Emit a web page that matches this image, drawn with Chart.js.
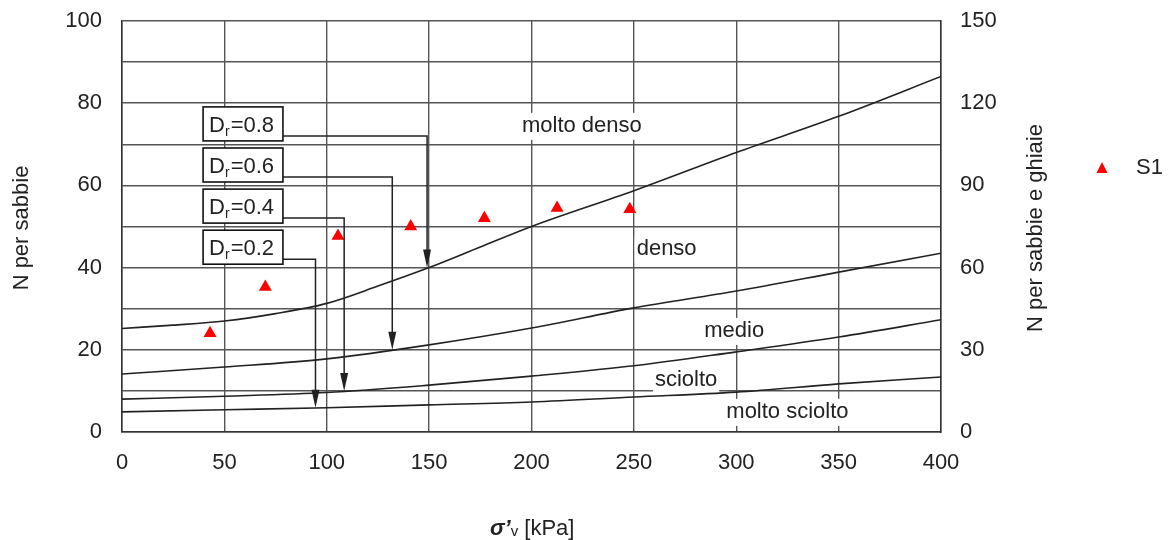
<!DOCTYPE html>
<html>
<head>
<meta charset="utf-8">
<script src="https://cdn.jsdelivr.net/npm/chart.js@4.4.0/dist/chart.umd.min.js"></script>
<style>
  html, body { margin: 0; padding: 0; background: #fff; }
  #wrap { width: 1170px; height: 540px; }
</style>
</head>
<body>
<div id="wrap"><canvas id="myChart"></canvas></div>
<script>
// sigma'v [kPa] sampling of the boundary curves
var sigmaDr08 = [0, 25, 50, 75, 100, 125, 150, 175, 200, 250, 300, 350, 400];
var curveDr08 = [25.2, 26, 27, 28.8, 31.3, 35.5, 40, 45, 50, 58.7, 68, 76.8, 86.5];
var sigmaV = [0, 50, 100, 150, 200, 250, 300, 350, 400];
var curveDr06 = [14.1, 15.8, 17.8, 21.2, 25.3, 30.2, 34.3, 38.9, 43.5];
var curveDr04 = [8.0, 8.7, 9.6, 11.4, 13.6, 16.1, 19.5, 23.1, 27.3];
var curveDr02 = [4.9, 5.4, 5.9, 6.6, 7.3, 8.5, 9.7, 11.7, 13.4];

// S1 test results
var s1Sigma = [43, 70, 105.5, 141, 177, 212.5, 248];
var s1N = [24, 35.3, 47.7, 50, 52, 54.5, 54.2];

// Dr reference arrows
var drValues = ['0.8', '0.6', '0.4', '0.2'];
var drArrowSigma = [149, 132, 108.5, 94.5];
var drArrowN = [40, 20, 10, 5.9];

// zone names
var zoneNames = ['molto denso', 'denso', 'medio', 'sciolto', 'molto sciolto'];
var zoneSigma = [224.6, 266, 299, 275.5, 325];
var zoneN = [74.5, 44.5, 24.6, 12.7, 4.9];

var FONT = '"Liberation Sans", Arial, sans-serif';
var INK = '#222';

function toPoints(xs, ys) {
    var pts = [];
    for (var i = 0; i < xs.length; i++) pts.push({ x: xs[i], y: ys[i] });
    return pts;
}

function curve(label, xs, ys) {
    return {
        label: label,
        data: toPoints(xs, ys),
        borderColor: INK,
        borderWidth: 1.6,
        pointRadius: 0,
        fill: false,
        cubicInterpolationMode: 'monotone',
        yAxisID: 'y'
    };
}

var overlay = {
    id: 'overlay',
    beforeDatasetsDraw: function(chart) {
        // zone names sit on a white patch over the grid, under the curves
        var ctx = chart.ctx;
        var xs = chart.scales.x, ys = chart.scales.y;
        ctx.save();
        ctx.font = '22px ' + FONT;
        for (var i = 0; i < zoneNames.length; i++) {
            var px = xs.getPixelForValue(zoneSigma[i]);
            var py = ys.getPixelForValue(zoneN[i]);
            var w = ctx.measureText(zoneNames[i]).width;
            ctx.fillStyle = '#fff';
            ctx.fillRect(px - w / 2 - 2, py - 13, w + 4, 27);
        }
        ctx.restore();
    },
    afterDatasetsDraw: function(chart) {
        var ctx = chart.ctx;
        var xs = chart.scales.x, ys = chart.scales.y;
        ctx.save();

        ctx.font = '22px ' + FONT;
        ctx.textAlign = 'center';
        ctx.textBaseline = 'middle';
        ctx.fillStyle = INK;
        for (var i = 0; i < zoneNames.length; i++) {
            ctx.fillText(zoneNames[i], xs.getPixelForValue(zoneSigma[i]), ys.getPixelForValue(zoneN[i]));
        }

        // Dr boxes and arrows
        var boxL = xs.getPixelForValue(39.6), boxR = xs.getPixelForValue(78.6);
        for (var j = 0; j < drValues.length; j++) {
            var top = ys.getPixelForValue(79.1 - 10 * j);
            var bh = 34;
            var cy = top + 29;
            var ax = xs.getPixelForValue(drArrowSigma[j]);
            var ay = ys.getPixelForValue(drArrowN[j]);
            ctx.strokeStyle = INK;
            ctx.lineWidth = 1.5;
            ctx.beginPath();
            ctx.moveTo(boxR, cy);
            ctx.lineTo(ax, cy);
            ctx.lineTo(ax, ay - 16);
            ctx.stroke();
            ctx.fillStyle = INK;
            ctx.beginPath();
            ctx.moveTo(ax, ay);
            ctx.lineTo(ax - 4, ay - 18);
            ctx.lineTo(ax + 4, ay - 18);
            ctx.closePath();
            ctx.fill();

            ctx.fillStyle = '#fff';
            ctx.fillRect(boxL, top, boxR - boxL, bh);
            ctx.strokeStyle = '#111';
            ctx.lineWidth = 1.6;
            ctx.strokeRect(boxL, top, boxR - boxL, bh);

            ctx.fillStyle = INK;
            ctx.textAlign = 'left';
            ctx.textBaseline = 'alphabetic';
            var tx = boxL + 6, ty = top + 25;
            ctx.font = '22px ' + FONT;
            ctx.fillText('D', tx, ty);
            tx += ctx.measureText('D').width;
            ctx.font = '14px ' + FONT;
            ctx.fillText('r', tx, ty + 4);
            tx += ctx.measureText('r').width + 1;
            ctx.font = '22px ' + FONT;
            ctx.fillText('=' + drValues[j], tx, ty);
        }

        // axis titles
        ctx.font = '22px ' + FONT;
        ctx.textAlign = 'center';
        ctx.textBaseline = 'middle';
        ctx.fillStyle = INK;
        ctx.save();
        ctx.translate(22, 228);
        ctx.rotate(-Math.PI / 2);
        ctx.fillText('N per sabbie', 0, 0);
        ctx.restore();
        ctx.save();
        ctx.translate(1036, 228);
        ctx.rotate(-Math.PI / 2);
        ctx.fillText('N per sabbie e ghiaie', 0, 0);
        ctx.restore();

        // x title: sigma'v [kPa]
        ctx.textAlign = 'left';
        ctx.textBaseline = 'alphabetic';
        var xt = 490, yt = 535;
        ctx.font = 'italic bold 22px ' + FONT;
        ctx.fillText('\u03C3\u2019', xt, yt);
        xt += ctx.measureText('\u03C3\u2019').width;
        ctx.font = '15px ' + FONT;
        ctx.fillText('v', xt, yt + 1);
        xt += ctx.measureText('v').width;
        ctx.font = '22px ' + FONT;
        ctx.fillText(' [kPa]', xt, yt);

        // legend
        var lx = 1102, ly = 168;
        ctx.fillStyle = '#ff0000';
        ctx.beginPath();
        ctx.moveTo(lx, ly - 6);
        ctx.lineTo(lx + 5.5, ly + 5);
        ctx.lineTo(lx - 5.5, ly + 5);
        ctx.closePath();
        ctx.fill();
        ctx.fillStyle = INK;
        ctx.textBaseline = 'middle';
        ctx.fillText('S1', 1136, ly);

        ctx.restore();
    }
};

function noVPad(s) {
    s.paddingTop = 0;
    s.paddingBottom = 0;
}

var ctx = document.getElementById('myChart').getContext('2d');
var myChart = new Chart(ctx, {
    type: 'line',
    data: {
        datasets: [
            curve('Dr=0.8', sigmaDr08, curveDr08),
            curve('Dr=0.6', sigmaV, curveDr06),
            curve('Dr=0.4', sigmaV, curveDr04),
            curve('Dr=0.2', sigmaV, curveDr02),
            {
                label: 'S1',
                type: 'scatter',
                data: toPoints(s1Sigma, s1N),
                pointStyle: 'triangle',
                pointRadius: 7.5,
                backgroundColor: '#ff0000',
                borderColor: '#ff0000',
                borderWidth: 0,
                showLine: false,
                yAxisID: 'y'
            }
        ]
    },
    options: {
        responsive: true,
        maintainAspectRatio: false,
        animation: false,
        layout: { padding: { top: 21, left: 0, right: 0, bottom: 0 } },
        plugins: {
            legend: { display: false },
            tooltip: { enabled: false }
        },
        scales: {
            x: {
                type: 'linear',
                min: 0,
                max: 400,
                ticks: { stepSize: 50, padding: 18, color: INK, font: { size: 22, family: FONT } },
                grid: { color: '#555', lineWidth: 1.4, drawTicks: false },
                border: { color: '#333', width: 1.5 },
                afterFit: function(s) { s.height = 108; }
            },
            y: {
                position: 'left',
                min: 0,
                max: 100,
                ticks: {
                    stepSize: 10,
                    padding: 20,
                    color: INK,
                    font: { size: 22, family: FONT },
                    callback: function(v) { return v % 20 === 0 ? v : ''; }
                },
                grid: { color: '#555', lineWidth: 1.4, drawTicks: false },
                border: { color: '#333', width: 1.5 },
                afterFit: function(s) { s.width = 122; noVPad(s); }
            },
            y2: {
                position: 'right',
                min: 0,
                max: 150,
                ticks: { stepSize: 30, padding: 19, color: INK, font: { size: 22, family: FONT } },
                grid: { display: false, drawTicks: false },
                border: { color: '#333', width: 1.5 },
                afterFit: function(s) { s.width = 229; noVPad(s); }
            }
        }
    },
    plugins: [overlay]
});
</script>
</body>
</html>
